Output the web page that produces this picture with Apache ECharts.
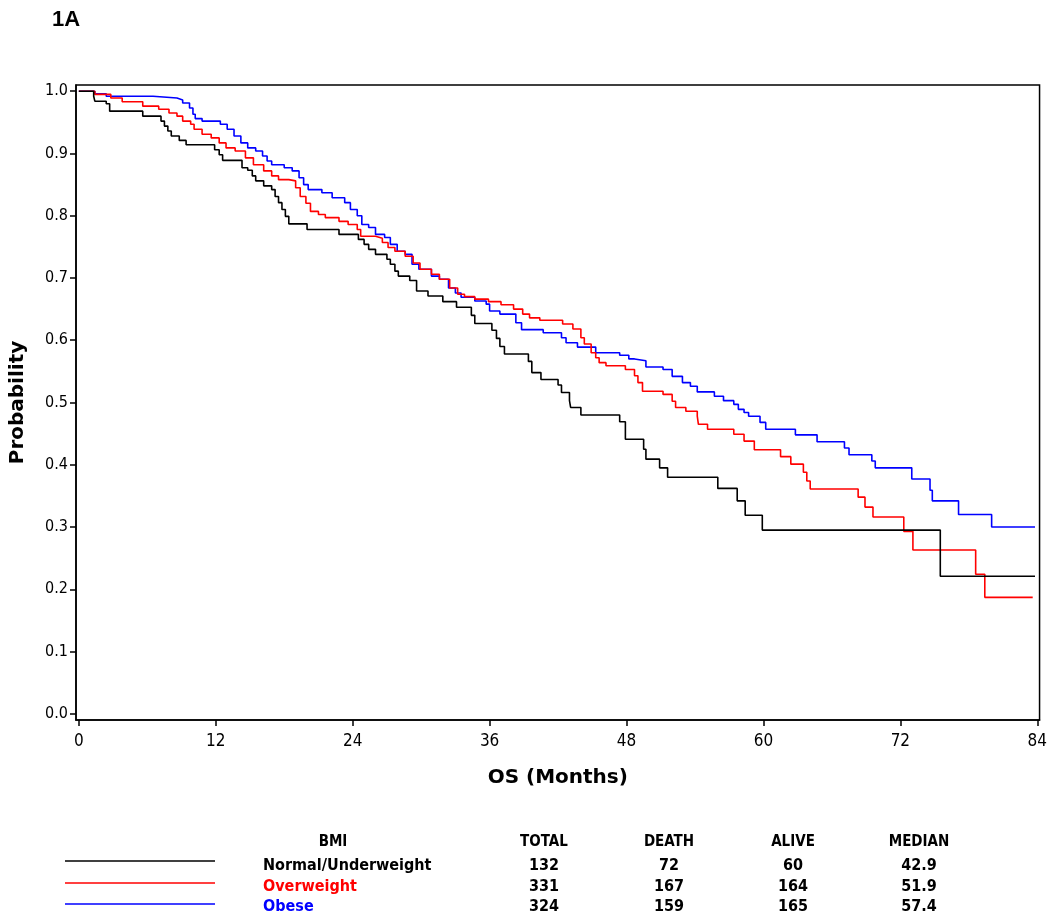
<!DOCTYPE html>
<html>
<head>
<meta charset="utf-8">
<script src="https://cdn.jsdelivr.net/npm/echarts@6/dist/echarts.min.js"></script>
<style>
html,body{margin:0;padding:0;background:#fff;}
#chart{width:1050px;height:915px;}
</style>
</head>
<body>
<div id="chart"></div>
<script>
// ---- Data ----
var xTicks = [0, 12, 24, 36, 48, 60, 72, 84];
var yTicks = [0, 0.1, 0.2, 0.3, 0.4, 0.5, 0.6, 0.7, 0.8, 0.9, 1.0];

var groups = ['Normal/Underweight', 'Overweight', 'Obese'];
var groupColors = ['#000000', '#ff0000', '#0000ff'];
var totals = [132, 331, 324];
var deaths = [72, 167, 159];
var alives = [60, 164, 165];
var medians = ['42.9', '51.9', '57.4'];
var tableHeaders = ['BMI', 'TOTAL', 'DEATH', 'ALIVE', 'MEDIAN'];

var normalCurve = [
  [0,1.0],[1.3,0.992],[1.4,0.984],[2.4,0.98],[2.7,0.968],[5.6,0.96],[7.2,0.952],[7.5,0.944],
  [7.8,0.936],[8.1,0.928],[8.8,0.921],[9.4,0.914],[11.9,0.906],[12.3,0.898],[12.6,0.889],
  [14.3,0.877],[14.8,0.873],[15.2,0.864],[15.5,0.856],[16.2,0.848],[16.9,0.842],[17.2,0.831],
  [17.5,0.821],[17.8,0.810],[18.1,0.799],[18.4,0.787],[20.0,0.778],[22.8,0.770],[24.5,0.762],
  [25.0,0.754],[25.4,0.746],[26.0,0.738],[27.0,0.730],[27.3,0.722],[27.7,0.711],[28.0,0.703],
  [29.0,0.696],[29.6,0.679],[30.6,0.671],[31.9,0.662],[33.1,0.653],[34.4,0.640],[34.7,0.627],
  [36.2,0.616],[36.6,0.603],[36.9,0.590],[37.3,0.578],[39.4,0.566],[39.7,0.548],[40.5,0.537],
  [42.0,0.528],[42.3,0.516],[43.0,0.503],[43.1,0.492],[44.0,0.480],[47.4,0.469],[47.9,0.441],
  [49.5,0.425],[49.7,0.409],[50.9,0.395],[51.6,0.380],[56.0,0.362],[57.7,0.342],[58.4,0.319],
  [59.9,0.295],[75.5,0.221],[83.8,0.221]
];

var overweightCurve = [
  [0,1.0],[1.4,0.995],[2.8,0.989],[3.8,0.983],[5.6,0.976],[7.0,0.971],[7.9,0.965],[8.6,0.960],
  [9.1,0.952],[9.8,0.947],[10.1,0.939],[10.8,0.931],[11.6,0.925],[12.3,0.917],[12.9,0.909],
  [13.7,0.904],[14.6,0.893],[15.3,0.882],[16.2,0.872],[16.9,0.864],[17.5,0.858],[18.4,0.856],
  [19.0,0.845],[19.4,0.831],[19.9,0.820],[20.3,0.807],[21.0,0.802],[21.6,0.797],[22.8,0.791],
  [23.6,0.786],[24.4,0.778],[24.7,0.767],[26.0,0.764],[26.6,0.757],[27.1,0.749],[27.7,0.743],
  [28.6,0.735],[29.3,0.724],[29.9,0.714],[30.9,0.706],[31.6,0.698],[32.5,0.684],[33.2,0.674],
  [33.8,0.670],[34.7,0.666],[35.9,0.662],[37.0,0.657],[38.1,0.650],[38.9,0.642],[39.5,0.636],
  [40.4,0.632],[42.4,0.626],[43.3,0.618],[44.0,0.604],[44.3,0.594],[44.9,0.580],[45.3,0.572],
  [45.6,0.564],[46.2,0.559],[47.9,0.553],[48.7,0.543],[49.0,0.532],[49.4,0.518],[51.2,0.513],
  [52.0,0.502],[52.3,0.492],[53.2,0.486],[54.2,0.478],[54.3,0.465],[55.1,0.457],[57.4,0.449],
  [58.3,0.438],[59.2,0.424],[61.5,0.413],[62.4,0.401],[63.5,0.388],[63.8,0.374],[64.1,0.361],
  [68.3,0.348],[68.9,0.332],[69.6,0.316],[72.3,0.293],[73.1,0.263],[78.6,0.224],[79.4,0.187],
  [83.6,0.187]
];

var obeseCurve = [
  [0,1.0],[1.4,0.996],[2.4,0.992],[6.5,0.989],[8.6,0.986],[9.1,0.981],[9.7,0.973],[10.0,0.963],
  [10.2,0.956],[10.8,0.952],[12.4,0.947],[13.0,0.939],[13.6,0.928],[14.2,0.917],[14.8,0.909],
  [15.5,0.904],[16.1,0.896],[16.5,0.888],[16.9,0.882],[18.0,0.877],[18.7,0.872],[19.3,0.861],
  [19.7,0.850],[20.1,0.842],[21.3,0.837],[22.2,0.829],[23.3,0.821],[23.8,0.810],[24.4,0.800],
  [24.8,0.786],[25.4,0.781],[26.0,0.770],[26.8,0.765],[27.3,0.754],[27.9,0.743],[28.6,0.738],
  [29.2,0.722],[29.8,0.714],[30.9,0.703],[31.6,0.698],[32.4,0.684],[33.0,0.676],[33.5,0.669],
  [34.7,0.663],[35.7,0.658],[36.0,0.647],[36.9,0.642],[38.3,0.628],[38.8,0.617],[40.7,0.612],
  [42.3,0.604],[42.7,0.596],[43.7,0.589],[45.3,0.580],[47.4,0.576],[48.2,0.570],[48.7,0.567],
  [49.7,0.557],[51.2,0.553],[52.0,0.542],[52.9,0.532],[53.6,0.526],[54.2,0.517],[55.7,0.510],
  [56.5,0.503],[57.4,0.497],[57.8,0.489],[58.3,0.484],[58.7,0.478],[59.7,0.468],[60.2,0.457],
  [62.8,0.448],[64.7,0.437],[67.1,0.427],[67.5,0.416],[69.5,0.406],[69.8,0.395],[73.0,0.377],
  [74.6,0.359],[74.8,0.342],[77.1,0.320],[80.0,0.300],[83.8,0.300]
];

var curves = [normalCurve, overweightCurve, obeseCurve];

// ---- Chart ----
var chart = echarts.init(document.getElementById('chart'), null, {renderer: 'canvas'});
var labelFont = '"DejaVu Sans Condensed", "DejaVu Sans", sans-serif';
var textFont = '"DejaVu Sans", "Liberation Sans", sans-serif';

var series = curves.map(function (c, i) {
  return {
    name: groups[i],
    type: 'line',
    step: 'end',
    data: c,
    showSymbol: false,
    symbol: 'none',
    lineStyle: {color: groupColors[i], width: 1.6},
    itemStyle: {color: groupColors[i]},
    animation: false,
    z: 3 - i
  };
});

// legend table as graphic
var graphics = [];
graphics.push({
  type: 'text', left: 52, top: 9,
  style: {text: '1A', font: 'bold 22px "Liberation Sans", Arial, sans-serif', fill: '#000'}
});
var colX = [333, 544, 669, 793, 919];
tableHeaders.forEach(function (h, j) {
  graphics.push({
    type: 'text', x: colX[j], y: 842,
    style: {text: h, font: 'bold 15px ' + labelFont, fill: '#000', textAlign: 'center', textVerticalAlign: 'middle'}
  });
});
var rowY = [866, 887, 907];
var lineY = [861, 883, 904];
groups.forEach(function (g, i) {
  graphics.push({
    type: 'line',
    shape: {x1: 65, y1: lineY[i], x2: 215, y2: lineY[i]},
    style: {stroke: groupColors[i], lineWidth: 1.6}
  });
  graphics.push({
    type: 'text', x: 263, y: rowY[i],
    style: {text: g, font: 'bold 16px ' + labelFont, fill: groupColors[i], textAlign: 'left', textVerticalAlign: 'middle'}
  });
  var vals = [totals[i], deaths[i], alives[i], medians[i]];
  vals.forEach(function (v, j) {
    graphics.push({
      type: 'text', x: colX[j + 1], y: rowY[i],
      style: {text: String(v), font: 'bold 16px ' + labelFont, fill: '#000', textAlign: 'center', textVerticalAlign: 'middle'}
    });
  });
});

var option = {
  backgroundColor: '#ffffff',
  animation: false,
  grid: {
    left: 74, right: 10, top: 85, bottom: 195,
    show: true, borderColor: '#000', borderWidth: 1.5, backgroundColor: 'transparent'
  },
  xAxis: {
    type: 'value',
    min: -0.25, max: 84.2,
    name: 'OS (Months)',
    nameLocation: 'middle',
    nameGap: 48,
    nameTextStyle: {fontFamily: textFont, fontSize: 20, fontWeight: 'bold', color: '#000'},
    axisLine: {show: true, onZero: false, lineStyle: {color: '#000', width: 1.5}},
    axisTick: {show: true, inside: false, length: 6, lineStyle: {color: '#000', width: 1.5}, customValues: xTicks},
    axisLabel: {show: true, margin: 13, fontFamily: labelFont, fontSize: 17, color: '#000', customValues: xTicks,
      formatter: function (v) { return String(v); }},
    splitLine: {show: false},
    minorTick: {show: false}
  },
  yAxis: {
    type: 'value',
    min: -0.01, max: 1.01,
    name: 'Probability',
    nameLocation: 'middle',
    nameGap: 48,
    nameRotate: 90,
    nameTextStyle: {fontFamily: textFont, fontSize: 20, fontWeight: 'bold', color: '#000'},
    axisLine: {show: true, onZero: false, lineStyle: {color: '#000', width: 1.5}},
    axisTick: {show: true, inside: false, length: 6, lineStyle: {color: '#000', width: 1.5}, customValues: yTicks},
    axisLabel: {show: true, margin: 8, fontFamily: labelFont, fontSize: 16, color: '#000', customValues: yTicks,
      formatter: function (v) { return Number(v).toFixed(1); }},
    splitLine: {show: false}
  },
  tooltip: {show: false},
  series: series,
  graphic: graphics
};
chart.setOption(option);
</script>
</body>
</html>
